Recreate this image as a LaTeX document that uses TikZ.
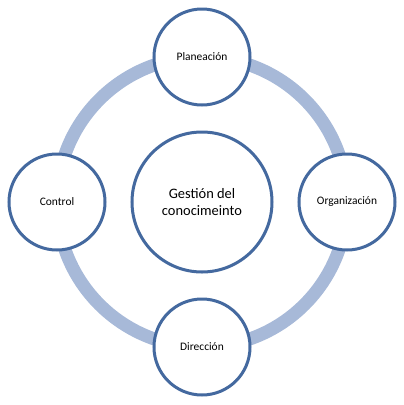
\documentclass[tikz,border=0pt]{standalone}
\usepackage{fontspec}
\setmainfont{Carlito}
\definecolor{ringc}{HTML}{A7B9D8}
\definecolor{edgec}{HTML}{44699F}
\begin{document}
\begin{tikzpicture}[x=1bp,y=-1bp,
  small/.style={circle,draw=edgec,line width=3bp,fill=white,minimum size=96bp,inner sep=0pt,font=\fontsize{11.5}{13}\selectfont,text=black},
  big/.style={circle,draw=edgec,line width=3bp,fill=white,minimum size=140bp,inner sep=0pt,align=center,font=\fontsize{14.5}{18}\selectfont,text=black}]
\useasboundingbox (0,0) rectangle (404,405);
\coordinate (o) at (202,202);
\draw[ringc,line width=13bp] (o) circle[radius=145bp];
\node[big] (c) at (o) {Gestión del\\conocimeinto};
\node[small] (t) at (202,57) {Planeación};
\node[small] (r) at (347,202) {Organización};
\node[small] (b) at (202,347) {Dirección};
\node[small] (l) at (57,202) {Control};
\end{tikzpicture}
\end{document}
